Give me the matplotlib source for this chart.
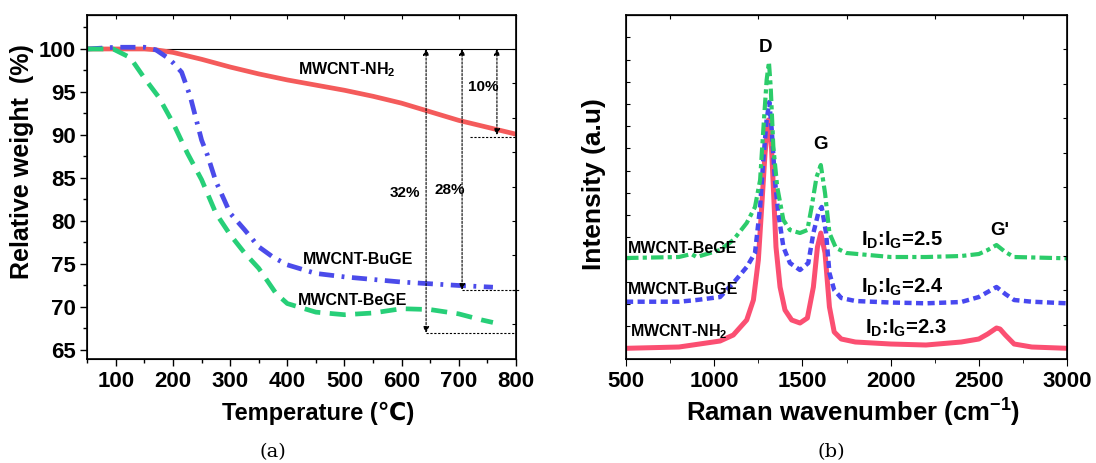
import matplotlib
matplotlib.use("Agg")
import matplotlib.pyplot as plt

plt.rcParams['font.family'] = ['Liberation Sans', 'DejaVu Sans']
plt.rcParams['font.weight'] = 'bold'
plt.rcParams['mathtext.fontset'] = 'custom'
plt.rcParams['mathtext.rm'] = 'Liberation Sans:bold'
plt.rcParams['mathtext.bf'] = 'Liberation Sans:bold'
plt.rcParams['mathtext.it'] = 'Liberation Sans:bold'

# (a) TGA data
temp_nh2 = [50, 100, 150, 170, 200, 250, 300, 350, 400, 450, 500, 550, 600, 650, 700, 750, 800]
wt_nh2 = [100, 100, 100, 99.9, 99.6, 98.8, 97.9, 97.1, 96.4, 95.8, 95.2, 94.5, 93.7, 92.7, 91.7, 90.9, 90.1]

temp_buge = [50, 100, 150, 170, 190, 200, 215, 230, 250, 260, 275, 290, 300, 325, 350, 375, 400, 450, 500, 600, 700, 760]
wt_buge = [100, 100.2, 100.2, 99.9, 99.0, 98.4, 97.3, 94.5, 89.4, 87.7, 84.6, 82.4, 80.9, 79.0, 77.0, 75.8, 74.9, 73.9, 73.5, 72.9, 72.5, 72.3]

temp_bege = [50, 95, 125, 150, 175, 200, 225, 250, 275, 300, 325, 350, 380, 400, 450, 500, 550, 600, 650, 700, 740, 760]
wt_bege = [100, 100, 99.0, 96.6, 94.4, 91.4, 87.9, 84.8, 80.9, 78.4, 76.3, 74.5, 71.6, 70.4, 69.4, 69.1, 69.3, 69.8, 69.7, 69.2, 68.5, 68.2]

# weight-loss arrows: x position, end value, label
loss_x = [643, 706, 767]
loss_end = [67.0, 72.0, 90.0]
loss_text = ["32%", "28%", "10%"]

# (b) Raman data
wn_nh2 = [500, 800, 1033, 1108, 1184, 1222, 1250, 1269, 1288, 1307, 1320, 1335, 1350, 1373, 1401,
          1439, 1486, 1528, 1562, 1585, 1604, 1628, 1653, 1680, 1720, 1800, 2000, 2200, 2400, 2500,
          2550, 2600, 2620, 2650, 2700, 2800, 3000]
int_nh2 = [0.97, 1.1, 1.7, 2.3, 3.8, 5.8, 9.8, 15.1, 20.5, 23.8, 22.8, 17.1, 11.1, 7.1, 4.8,
           3.8, 3.5, 4.0, 7.1, 11.1, 12.5, 10.5, 5.1, 2.6, 1.9, 1.6, 1.4, 1.3, 1.6, 1.9,
           2.4, 3.0, 2.9, 2.3, 1.4, 1.1, 0.97]

wn_buge = [500, 800, 900, 1033, 1108, 1184, 1231, 1260, 1278, 1297, 1312, 1326, 1344, 1363, 1392,
           1429, 1486, 1533, 1562, 1590, 1609, 1634, 1653, 1680, 1720, 1800, 2000, 2200, 2400, 2500,
           2550, 2600, 2650, 2700, 2800, 3000]
int_buge = [5.63, 5.63, 5.8, 6.1, 7.5, 9.1, 10.5, 15.1, 19.8, 23.8, 25.6, 22.8, 17.8, 14.5, 11.1,
            9.5, 8.8, 9.5, 12.5, 14.5, 15.1, 12.5, 8.5, 6.8, 6.0, 5.7, 5.55, 5.47, 5.6, 6.1,
            6.6, 7.1, 6.4, 5.8, 5.63, 5.47]

wn_bege = [500, 800, 870, 900, 1033, 1108, 1184, 1231, 1260, 1278, 1297, 1310, 1320, 1335, 1357,
           1392, 1429, 1486, 1528, 1552, 1580, 1604, 1628, 1653, 1690, 1750, 2000, 2200, 2400, 2500,
           2550, 2600, 2650, 2700, 3000]
int_bege = [10.0, 10.1, 10.4, 10.1, 10.8, 11.8, 13.5, 15.1, 17.8, 22.8, 27.8, 29.6, 27.1, 21.1, 17.1,
            13.8, 12.8, 12.5, 12.8, 15.1, 18.1, 19.3, 16.5, 12.5, 11.0, 10.5, 10.1, 10.1, 10.2, 10.4,
            10.8, 11.3, 10.6, 10.1, 9.97]

red_a, blue_a, green_a = '#f45b5b', '#4b4bea', '#27cf78'
red_b, blue_b, green_b = '#fb4f72', '#4848f0', '#2ccc6a'

fig = plt.figure(figsize=(10.96, 4.63), dpi=100)
ax1 = fig.add_axes([0.0797, 0.2246, 0.3909, 0.743])
ax2 = fig.add_axes([0.5712, 0.2246, 0.4024, 0.743])

# ---- panel (a)
ax1.axhline(100, color='black', lw=0.8, zorder=1)
ax1.plot(temp_nh2, wt_nh2, color=red_a, lw=3.4, solid_capstyle='round')
ax1.plot(temp_buge, wt_buge, color=blue_a, lw=3.4, linestyle=(0, (3.2, 1.6, 0.6, 1.6)))
ax1.plot(temp_bege, wt_bege, color=green_a, lw=3.4, linestyle=(0, (3.4, 2.0)))

for x, y_end in zip(loss_x, loss_end):
    ax1.annotate('', xy=(x, y_end), xytext=(x, 100),
                 arrowprops=dict(arrowstyle='<|-|>', linestyle=(0, (2, 1.5)), lw=0.8,
                                 color='black', mutation_scale=9, shrinkA=0, shrinkB=0))
ax1.plot([643, 800], [67.0, 67.0], color='black', lw=0.8, linestyle=(0, (2, 1.5)))
ax1.plot([706, 805], [72.0, 72.0], color='black', lw=0.8, linestyle=(0, (2, 1.5)), clip_on=False)
ax1.plot([720, 800], [89.8, 89.8], color='black', lw=0.8, linestyle=(0, (2, 1.5)))

ax1.text(633, 83.3, loss_text[0], fontsize=11, ha='right', va='center')
ax1.text(657, 83.6, loss_text[1], fontsize=11, ha='left', va='center')
ax1.text(717, 95.6, loss_text[2], fontsize=11, ha='left', va='center')
ax1.text(419, 97.6, "MWCNT-NH$_2$", fontsize=11.5, ha='left', va='center')
ax1.text(427, 75.5, "MWCNT-BuGE", fontsize=11.5, ha='left', va='center')
ax1.text(418, 70.7, "MWCNT-BeGE", fontsize=11.5, ha='left', va='center')

ax1.set_xlim(50, 800)
ax1.set_ylim(63.95, 103.95)
ax1.set_xticks(range(100, 801, 100))
ax1.set_xticks(range(50, 801, 50), minor=True)
ax1.set_yticks(range(65, 101, 5))
ax1.set_yticks([65 + 2.5 * i for i in range(16)], minor=True)
ax1.tick_params(which='both', direction='out', labelsize=16, width=1)
ax1.tick_params(which='major', length=5)
ax1.tick_params(which='minor', length=3)
for lab in ax1.get_xticklabels() + ax1.get_yticklabels():
    lab.set_fontweight('bold')
ax1top = ax1.secondary_xaxis('top')
ax1top.set_xticks(range(100, 801, 100))
ax1top.tick_params(direction='in', length=3, labeltop=False)
ax1r = ax1.twinx()
ax1r.set_ylim(63.95, 103.95)
ax1r.set_yticks(range(68, 101, 4))
ax1r.tick_params(direction='in', length=3, labelright=False)
for sp in ax1.spines.values():
    sp.set_linewidth(1.2)

# ---- panel (b)
ax2.plot(wn_nh2, int_nh2, color=red_b, lw=3.6)
ax2.plot(wn_buge, int_buge, color=blue_b, lw=3.2, linestyle=(0, (1.6, 1.0)))
ax2.plot(wn_bege, int_bege, color=green_b, lw=3.0, linestyle=(0, (3.0, 1.0, 1.0, 1.0)))

ax2.text(1293, 31.1, "D", fontsize=13.5, ha='center', va='center')
ax2.text(1605, 21.4, "G", fontsize=13.5, ha='center', va='center')
ax2.text(2621, 12.8, "G'", fontsize=13.5, ha='center', va='center')
ax2.text(1832, 11.8, "I$_D$:I$_G$=2.5", fontsize=14.5, ha='left', va='center')
ax2.text(1832, 7.1, "I$_D$:I$_G$=2.4", fontsize=14.5, ha='left', va='center')
ax2.text(1852, 3.0, "I$_D$:I$_G$=2.3", fontsize=14.5, ha='left', va='center')
ax2.text(510, 11.0, "MWCNT-BeGE", fontsize=11.5, ha='left', va='center')
ax2.text(512, 6.9, "MWCNT-BuGE", fontsize=11.5, ha='left', va='center')
ax2.text(525, 2.6, "MWCNT-NH$_2$", fontsize=11.5, ha='left', va='center')

ax2.set_xlim(500, 3000)
ax2.set_ylim(-0.1, 34.3)
ax2.set_xticks(range(500, 3001, 500))
ax2.set_xticks(range(500, 3001, 250), minor=True)
ax2.set_yticks([0.99 + 2.22 * i for i in range(15)])
ax2.tick_params(axis='y', direction='in', length=3, labelleft=False)
ax2.tick_params(axis='x', which='both', direction='out', labelsize=16)
ax2.tick_params(axis='x', which='major', length=5)
ax2.tick_params(axis='x', which='minor', length=3)
for lab in ax2.get_xticklabels():
    lab.set_fontweight('bold')
ax2top = ax2.secondary_xaxis('top')
ax2top.set_xticks(range(750, 3000, 500))
ax2top.tick_params(direction='in', length=3, labeltop=False)
ax2r = ax2.twinx()
ax2r.set_ylim(0, 10)
ax2r.set_yticks(range(1, 10))
ax2r.tick_params(direction='in', length=3, labelright=False)
for sp in ax2.spines.values():
    sp.set_linewidth(1.2)

# axis titles placed in figure pixels
W, H = 1096.0, 463.0
fig.text(21.7 / W, 1 - 161.5 / H, "Relative weight  (%)", fontsize=18, rotation=90, ha='center', va='center')
fig.text(318 / W, 1 - 413 / H, "Temperature (℃)", fontsize=17, ha='center', va='center')
fig.text(593.5 / W, 1 - 184 / H, "Intensity (a.u)", fontsize=19, rotation=90, ha='center', va='center')
fig.text(853 / W, 1 - 413 / H, "Raman wavenumber (cm$^{-1}$)", fontsize=18.5, ha='center', va='center')

fig.text(272.5 / W, 1 - 452 / H, "(a)", fontsize=14, family='DejaVu Serif', weight='normal', ha='center', va='center')
fig.text(831 / W, 1 - 452 / H, "(b)", fontsize=14, family='DejaVu Serif', weight='normal', ha='center', va='center')

fig.savefig("out.png", dpi=100)
